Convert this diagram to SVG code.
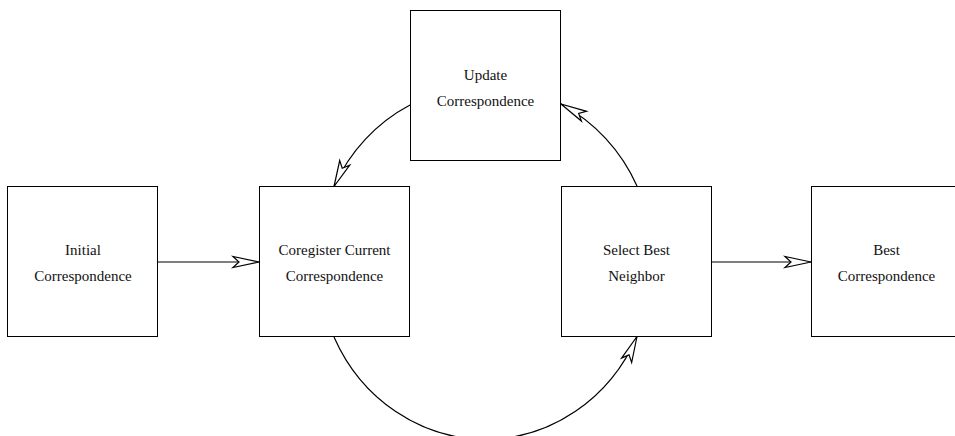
<svg xmlns="http://www.w3.org/2000/svg" width="955" height="436" viewBox="0 0 955 436">
<style>
.box{fill:#fff;stroke:#000;stroke-width:1}
.lbl{font-family:"Liberation Serif","Times New Roman",serif;font-size:15px;fill:#111;text-anchor:middle}
.edge{fill:none;stroke:#000;stroke-width:1.2;marker-end:url(#arr)}
</style>
<defs>
<marker id="arr" markerUnits="userSpaceOnUse" markerWidth="40" markerHeight="40" refX="0" refY="0" orient="auto" overflow="visible">
<path d="M0,0 L-26,-5.5 L-20,0 L-26,5.5 Z" fill="#fff" stroke="#000" stroke-width="1.2" stroke-linejoin="miter"/>
</marker>
</defs>
<rect width="955" height="436" fill="#fff"/>
<g id="initial">
<rect class="box" x="7.5" y="186.5" width="150" height="150"/>
<text class="lbl" x="83" y="255">Initial</text>
<text class="lbl" x="83" y="281">Correspondence</text>
</g>
<g id="coregister">
<rect class="box" x="259.5" y="186.5" width="150" height="150"/>
<text class="lbl" x="334.5" y="255">Coregister Current</text>
<text class="lbl" x="334.5" y="281">Correspondence</text>
</g>
<g id="update">
<rect class="box" x="410.5" y="10.5" width="150" height="150"/>
<text class="lbl" x="485.5" y="80">Update</text>
<text class="lbl" x="485.5" y="106">Correspondence</text>
</g>
<g id="select">
<rect class="box" x="561.5" y="186.5" width="150" height="150"/>
<text class="lbl" x="636.5" y="255">Select Best</text>
<text class="lbl" x="636.5" y="281">Neighbor</text>
</g>
<g id="best">
<rect class="box" x="811.5" y="186.5" width="160" height="150"/>
<text class="lbl" x="886.5" y="255">Best</text>
<text class="lbl" x="886.5" y="281">Correspondence</text>
</g>
<g id="connectors">
<path class="edge" d="M158,262 L259,262"/>
<path class="edge" d="M712,262 L811,262"/>
<path class="edge" d="M410,105 A168,175 0 0 0 334,186.5"/>
<path class="edge" d="M334,337 A167,177 0 0 0 637,336.5"/>
<path class="edge" d="M637,186 A168,175 0 0 0 561,104"/>
</g>
</svg>
